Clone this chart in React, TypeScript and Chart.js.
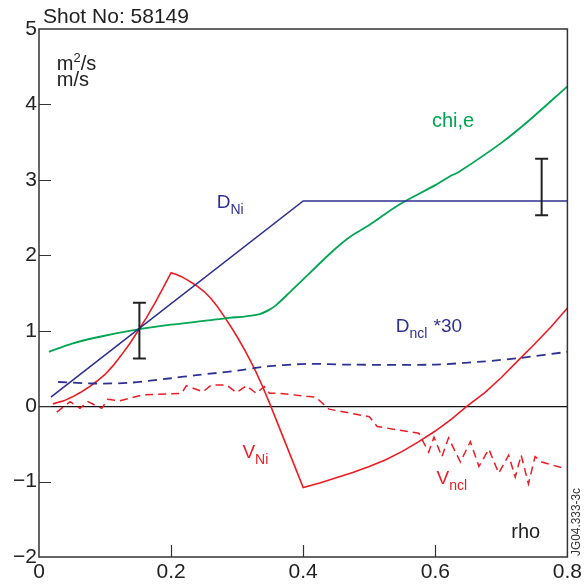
import React, { useEffect, useRef } from "react";
import { Chart, registerables } from "chart.js";

Chart.register(...registerables);

// ---- data ----
const dNiX = [0.018, 0.4, 0.8];
const dNiY = [0.12, 2.72, 2.72];

const chiX = [0.015, 0.05, 0.092, 0.152, 0.2, 0.25, 0.288, 0.313, 0.334, 0.349, 0.359, 0.375, 0.394, 0.444, 0.47, 0.5, 0.545, 0.6, 0.625, 0.635, 0.7, 0.741, 0.8];
const chiY = [0.72, 0.83, 0.92, 1.02, 1.08, 1.13, 1.17, 1.19, 1.22, 1.28, 1.34, 1.47, 1.63, 2.05, 2.24, 2.4, 2.67, 2.93, 3.06, 3.1, 3.49, 3.78, 4.24];

const vNiX = [0.021, 0.0375, 0.05, 0.0625, 0.075, 0.0875, 0.1, 0.1125, 0.125, 0.1375, 0.15, 0.1625, 0.175, 0.1875, 0.2,
  0.207, 0.215, 0.225, 0.238, 0.25, 0.26, 0.27, 0.281, 0.29, 0.3, 0.313, 0.326, 0.338, 0.35, 0.375, 0.4,
  0.425, 0.45, 0.475, 0.5, 0.525, 0.55, 0.575, 0.6, 0.625, 0.648, 0.675, 0.7, 0.726, 0.75, 0.775, 0.8];
const vNiY = [0.03, 0.07, 0.12, 0.18, 0.25, 0.33, 0.42, 0.54, 0.68, 0.83, 1.0, 1.17, 1.36, 1.56, 1.77,
  1.75, 1.72, 1.67, 1.6, 1.52, 1.43, 1.32, 1.18, 1.06, 0.92, 0.72, 0.5, 0.27, 0.02, -0.53, -1.08,
  -1.02, -0.95, -0.88, -0.8, -0.71, -0.6, -0.47, -0.33, -0.17, 0.0, 0.18, 0.38, 0.61, 0.82, 1.05, 1.3];

const vNclX = [0.027, 0.047, 0.062, 0.074, 0.095, 0.104, 0.122, 0.157, 0.216, 0.223, 0.248, 0.261, 0.284, 0.299, 0.314, 0.329, 0.341, 0.349, 0.364, 0.405, 0.419, 0.439, 0.5, 0.512, 0.575, 0.59, 0.598, 0.61, 0.62, 0.638, 0.653, 0.666, 0.681, 0.696, 0.711, 0.721, 0.73, 0.741, 0.751, 0.761, 0.797];
const vNclY = [-0.08, 0.06, -0.03, 0.06, -0.03, 0.09, 0.07, 0.15, 0.17, 0.27, 0.19, 0.28, 0.28, 0.18, 0.27, 0.17, 0.26, 0.17, 0.17, 0.13, 0.12, -0.04, -0.14, -0.27, -0.36, -0.61, -0.41, -0.67, -0.42, -0.74, -0.47, -0.8, -0.57, -0.89, -0.65, -0.94, -0.65, -1.03, -0.67, -0.74, -0.83];

const dNclX = [0.029, 0.087, 0.137, 0.2, 0.238, 0.3, 0.338, 0.404, 0.47, 0.595, 0.67, 0.73, 0.8];
const dNclY = [0.32, 0.3, 0.31, 0.37, 0.41, 0.47, 0.52, 0.56, 0.55, 0.55, 0.59, 0.64, 0.72];

const errX = [0.152, 0.761];
const errLo = [0.63, 2.53];
const errHi = [1.37, 3.28];

const yInnerTicks = [4, 3, 2, 1, 0, -1];
const xInnerTicks = [0.2, 0.4, 0.6];

const title = "Shot No: 58149";
const sideNote = "JG04.333-3c";

const RED = "#ed1c24";
const GREEN = "#00a651";
const BLUE = "#2e3192";
const FONT = "'Liberation Sans', Arial, Helvetica, sans-serif";

type Part = { t: string; s?: "sub" | "sup" };
type Lbl = { parts: Part[]; x: number; y: number; color: string; size: number };

const labels: Lbl[] = [
  { parts: [{ t: "m" }, { t: "2", s: "sup" }, { t: "/s" }], x: 0.027, y: 4.46, color: "#222", size: 20 },
  { parts: [{ t: "m/s" }], x: 0.027, y: 4.24, color: "#222", size: 20 },
  { parts: [{ t: "chi,e" }], x: 0.595, y: 3.7, color: GREEN, size: 20 },
  { parts: [{ t: "D" }, { t: "Ni", s: "sub" }], x: 0.269, y: 2.63, color: BLUE, size: 19 },
  { parts: [{ t: "D" }, { t: "ncl", s: "sub" }, { t: " *30" }], x: 0.54, y: 0.985, color: BLUE, size: 19 },
  { parts: [{ t: "V" }, { t: "Ni", s: "sub" }], x: 0.308, y: -0.69, color: RED, size: 19 },
  { parts: [{ t: "V" }, { t: "ncl", s: "sub" }], x: 0.602, y: -1.03, color: RED, size: 19 },
  { parts: [{ t: "rho" }], x: 0.715, y: -1.75, color: "#222", size: 20 },
];

const pts = (xs: number[], ys: number[]) => xs.map((x, i) => ({ x, y: ys[i] }));

const overlay = {
  id: "overlay",
  afterDraw(chart: any) {
    const { ctx, chartArea: a } = chart;
    const xs = chart.scales.x;
    const ys = chart.scales.y;
    ctx.save();
    // frame
    ctx.strokeStyle = "#333";
    ctx.lineWidth = 1.5;
    ctx.strokeRect(a.left, a.top, a.right - a.left, a.bottom - a.top);
    // inward ticks
    ctx.lineWidth = 1.2;
    ctx.beginPath();
    yInnerTicks.forEach((v) => {
      const p = Math.round(ys.getPixelForValue(v)) + 0.5;
      ctx.moveTo(a.left, p);
      ctx.lineTo(a.left + 12, p);
    });
    xInnerTicks.forEach((v) => {
      const p = Math.round(xs.getPixelForValue(v)) + 0.5;
      ctx.moveTo(p, a.bottom);
      ctx.lineTo(p, a.bottom - 12);
    });
    ctx.stroke();
    // error bars
    ctx.strokeStyle = "#222";
    ctx.lineWidth = 2;
    ctx.beginPath();
    errX.forEach((ex, i) => {
      const px = xs.getPixelForValue(ex);
      const p1 = ys.getPixelForValue(errLo[i]);
      const p2 = ys.getPixelForValue(errHi[i]);
      ctx.moveTo(px, p1);
      ctx.lineTo(px, p2);
      ctx.moveTo(px - 6.5, p1);
      ctx.lineTo(px + 6.5, p1);
      ctx.moveTo(px - 6.5, p2);
      ctx.lineTo(px + 6.5, p2);
    });
    ctx.stroke();
    // labels
    ctx.textBaseline = "alphabetic";
    ctx.textAlign = "left";
    labels.forEach((l) => {
      let px = xs.getPixelForValue(l.x);
      const py = ys.getPixelForValue(l.y);
      ctx.fillStyle = l.color;
      l.parts.forEach((p) => {
        let size = l.size;
        let dy = 0;
        if (p.s === "sub") {
          size = Math.round(l.size * 0.72);
          dy = 6;
        } else if (p.s === "sup") {
          size = Math.round(l.size * 0.65);
          dy = -8;
        }
        ctx.font = `${size}px ${FONT}`;
        ctx.fillText(p.t, px, py + dy);
        px += ctx.measureText(p.t).width + (p.s === "sub" ? 1 : 0);
      });
    });
    // title
    ctx.fillStyle = "#222";
    ctx.font = `21px ${FONT}`;
    ctx.fillText(title, a.left + 4, a.top - 6);
    // side note (rotated)
    ctx.font = `13px ${FONT}`;
    const w = ctx.measureText(sideNote).width;
    const target = 68;
    ctx.translate(a.right + 13, a.bottom - 1);
    ctx.rotate(-Math.PI / 2);
    ctx.scale(target / w, 1);
    ctx.fillStyle = "#333";
    ctx.fillText(sideNote, 0, 0);
    ctx.restore();
  },
};

export default function App() {
  const ref = useRef<HTMLCanvasElement | null>(null);
  useEffect(() => {
    document.body.style.margin = "0";
    const line = (data: any, color: string, dash: number[] = [], width = 1.6, tension = 0) => ({
      data,
      borderColor: color,
      backgroundColor: color,
      borderWidth: width,
      borderDash: dash,
      showLine: true,
      pointRadius: 0,
      tension,
      fill: false,
    });
    const chart = new Chart(ref.current as HTMLCanvasElement, {
      type: "scatter",
      data: {
        datasets: [
          line(pts(dNclX, dNclY), BLUE, [9, 6], 1.8, 0.3),
          line(pts(vNclX, vNclY), RED, [8, 5], 1.5, 0),
          line(pts(dNiX, dNiY), BLUE, [], 1.6, 0),
          line(pts(chiX, chiY), GREEN, [], 1.8, 0.3),
          line(pts(vNiX, vNiY), RED, [], 1.6, 0),
        ] as any,
      },
      options: {
        animation: false,
        responsive: false,
        maintainAspectRatio: false,
        layout: { padding: { top: 29, right: 16, left: 0, bottom: 0 } },
        plugins: { legend: { display: false }, tooltip: { enabled: false }, title: { display: false } },
        scales: {
          x: {
            type: "linear",
            min: 0,
            max: 0.8,
            border: { display: false },
            grid: { display: false, drawTicks: false },
            ticks: {
              stepSize: 0.2,
              padding: 3,
              color: "#222",
              font: { family: FONT, size: 21 },
              callback: (v: any) => String(Number(Number(v).toFixed(1))),
            },
            afterFit: (s: any) => {
              s.height = 29;
            },
          },
          y: {
            type: "linear",
            min: -2,
            max: 5,
            border: { display: false },
            grid: {
              drawTicks: false,
              color: (c: any) => (c.tick && c.tick.value === 0 ? "#111" : "rgba(0,0,0,0)"),
              lineWidth: 1.2,
            },
            ticks: {
              stepSize: 1,
              padding: 2,
              color: "#222",
              font: { family: FONT, size: 21 },
              callback: (v: any) => (Number(v) < 0 ? "\u2212" + Math.abs(Number(v)) : String(v)),
            },
            afterFit: (s: any) => {
              s.width = 39;
            },
          },
        },
      },
      plugins: [overlay],
    });
    return () => chart.destroy();
  }, []);
  return <canvas ref={ref} width={585} height={586} style={{ display: "block" }} />;
}
